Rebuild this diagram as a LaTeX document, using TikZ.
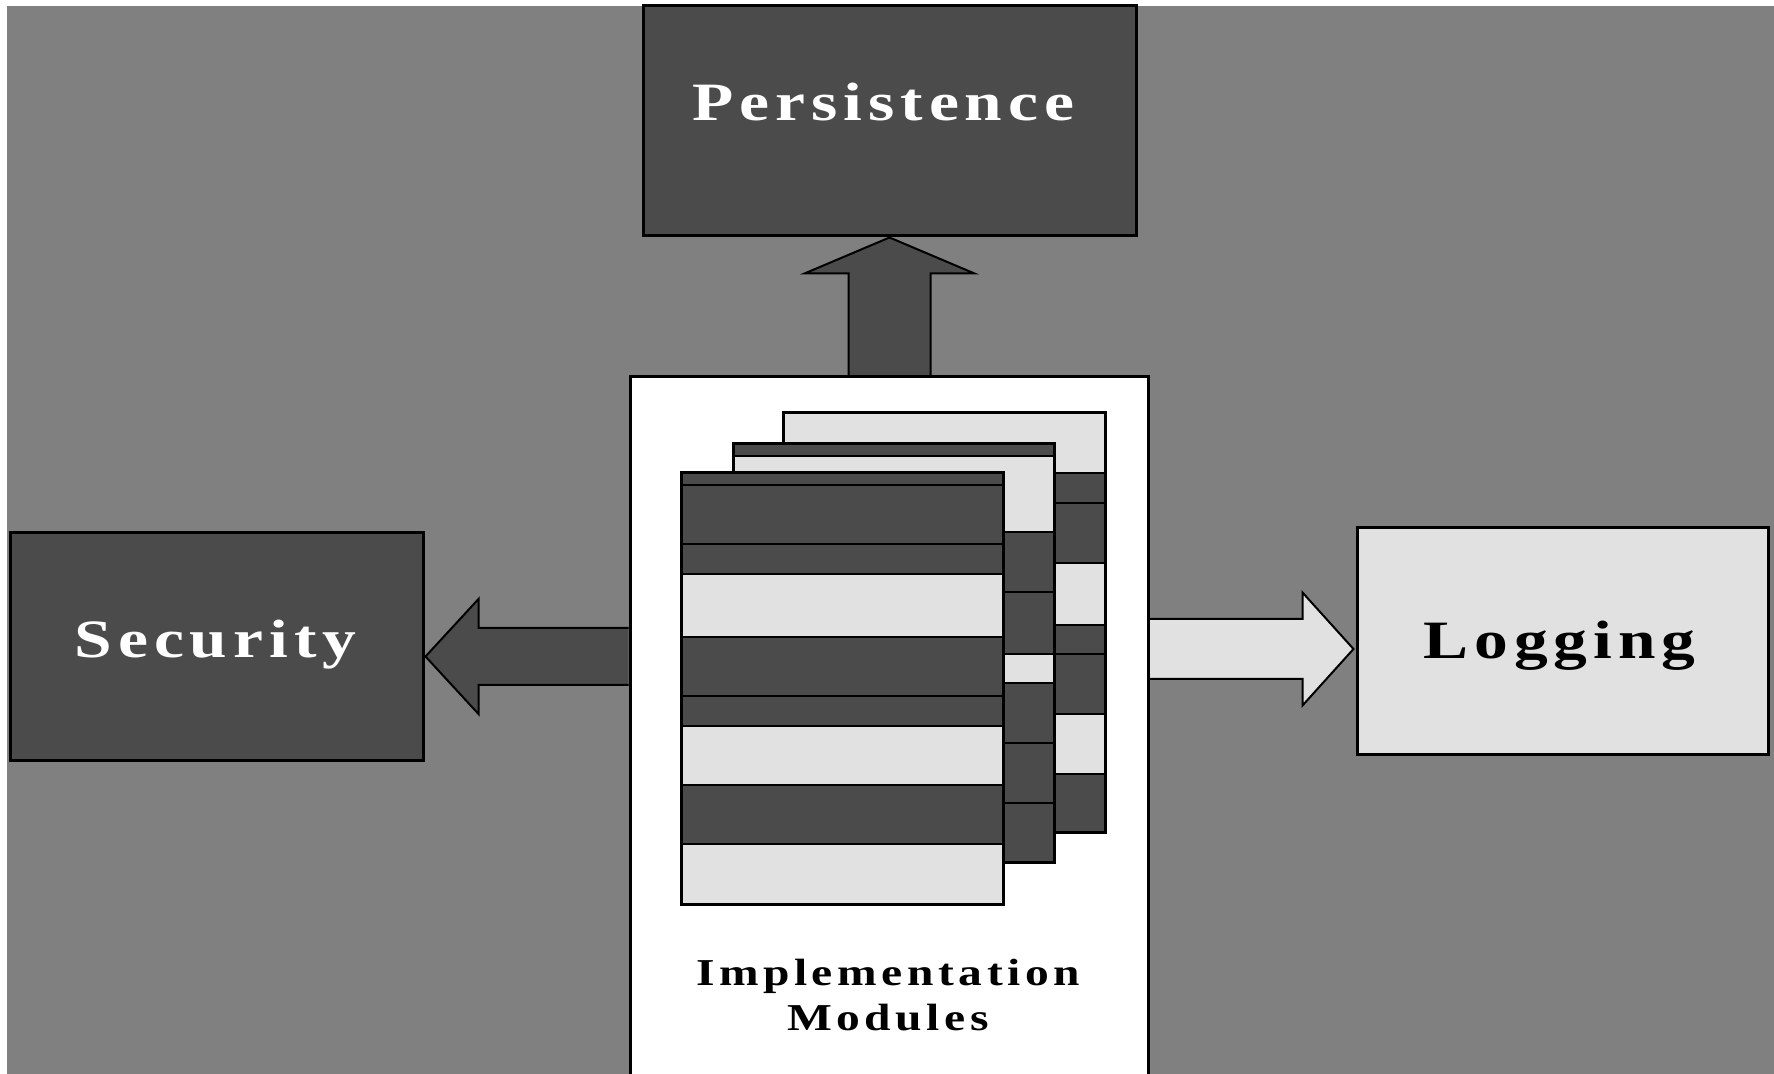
\documentclass[tikz,border=0pt]{standalone}
\usepackage{fontspec}
\setmainfont{Liberation Serif}
\newfontfamily\boxfont[LetterSpace=11, FakeStretch=1.25]{Liberation Serif}
\newfontfamily\modfont[LetterSpace=12, FakeStretch=1.25]{Liberation Serif}
\usetikzlibrary{calc}
\pgfdeclarelayer{bg}
\pgfdeclarelayer{arrows}
\pgfsetlayers{bg,arrows,main}

\definecolor{bggray}{HTML}{808080}
\definecolor{darkfill}{HTML}{4B4B4B}
\definecolor{lightfill}{HTML}{E1E1E1}

\tikzset{
  box/.style={draw=black, line width=1.5pt, rectangle, inner sep=0pt},
  darkbox/.style={box, fill=darkfill},
  lightbox/.style={box, fill=lightfill},
  lbl/.style={inner sep=0pt, font=\fontsize{27}{32}\boxfont\bfseries},
  blockarrow/.style={draw=black, line width=1pt, line join=miter},
  stripe/.style={draw=black, line width=1pt},
  pageedge/.style={draw=black, line width=1.5pt},
}

\begin{document}
\begin{tikzpicture}[x=0.5pt, y=-0.5pt]
\useasboundingbox (0,0) rectangle (1774,1074);
\clip (0,0) rectangle (1774,1074);

% backdrop
\begin{pgfonlayer}{bg}
  \fill[white] (0,0) rectangle (1774,1074);
  \fill[bggray] (7,6) rectangle (1774,1074);
\end{pgfonlayer}

% the four blocks
\node[darkbox, minimum width=246.5pt, minimum height=115pt] (pers) at (889.5,121) {};
\node[darkbox, minimum width=206.5pt, minimum height=114pt] (sec) at (216.5,647) {};
\node[lightbox, minimum width=205.5pt, minimum height=113.5pt] (log) at (1562.5,641.5) {};
\node[box, fill=white, minimum width=259pt, minimum height=361.5pt] (mods) at (889,738.5) {};

% labels
\node[lbl, text=white, anchor=base] (perstext) at ($(pers.north)+(-6,116)$) {Persistence};
\node[lbl, text=white, anchor=base] (sectext) at ($(sec.center)+(-1,11)$) {Security};
\node[lbl, text=black, anchor=base] (logtext) at ($(log.center)+(-3,17.5)$) {Logging};
\node[inner sep=0pt, anchor=north, align=center, text=black,
      font=\fontsize{19}{22.5}\modfont\bfseries] (modtext) at (888,959)
      {Implementation\\Modules};

% block arrows from the modules to the three services
\coordinate (ut) at (pers.south);
\coordinate (us) at (pers.south |- mods.north);
\coordinate (lt) at ($(sec.east)+(1,9.5)$);
\coordinate (ls) at (mods.west |- lt);
\coordinate (rt) at ($(log.west)+(-2,7.5)$);
\coordinate (rs) at (mods.east |- rt);
\begin{pgfonlayer}{arrows}
  \path[blockarrow, fill=darkfill]
    ($(us)+(-41,0)$) -- ($(ut)+(-41,36)$) -- ($(ut)+(-85,36)$) -- (ut)
    -- ($(ut)+(85,36)$) -- ($(ut)+(41,36)$) -- ($(us)+(41,0)$);
  \path[blockarrow, fill=darkfill]
    ($(ls)+(0,-28.5)$) -- ($(lt)+(53,-28.5)$) -- ($(lt)+(53,-57.5)$) -- (lt)
    -- ($(lt)+(53,57.5)$) -- ($(lt)+(53,28.5)$) -- ($(ls)+(0,28.5)$);
  \path[blockarrow, fill=lightfill]
    ($(rs)+(0,-30)$) -- ($(rt)+(-51,-30)$) -- ($(rt)+(-51,-56.5)$) -- (rt)
    -- ($(rt)+(-51,56.5)$) -- ($(rt)+(-51,30)$) -- ($(rs)+(0,30)$);
\end{pgfonlayer}

% stack of striped module pages, back to front
\foreach \ya/\yb/\c in {413/473/lightfill, 473/503/darkfill, 503/563/darkfill,
    563/625/lightfill, 625/654/darkfill, 654/714/darkfill, 714/774/lightfill,
    774/833/darkfill}
  \path[stripe, fill=\c] (783,\ya) rectangle (1105,\yb);
\path[pageedge] (783,413) rectangle (1105,833);

\foreach \ya/\yb/\c in {444/456/darkfill, 456/532/lightfill, 532/592/darkfill,
    592/654/darkfill, 654/683/lightfill, 683/743/darkfill, 743/803/darkfill,
    803/863/darkfill}
  \path[stripe, fill=\c] (733,\ya) rectangle (1054,\yb);
\path[pageedge] (733,444) rectangle (1054,863);

\foreach \ya/\yb/\c in {473/485/darkfill, 485/544/darkfill, 544/574/darkfill,
    574/637/lightfill, 637/696/darkfill, 696/726/darkfill, 726/785/lightfill,
    785/844/darkfill, 844/905/lightfill}
  \path[stripe, fill=\c] (681,\ya) rectangle (1003,\yb);
\path[pageedge] (681,473) rectangle (1003,905);
\end{tikzpicture}
\end{document}
